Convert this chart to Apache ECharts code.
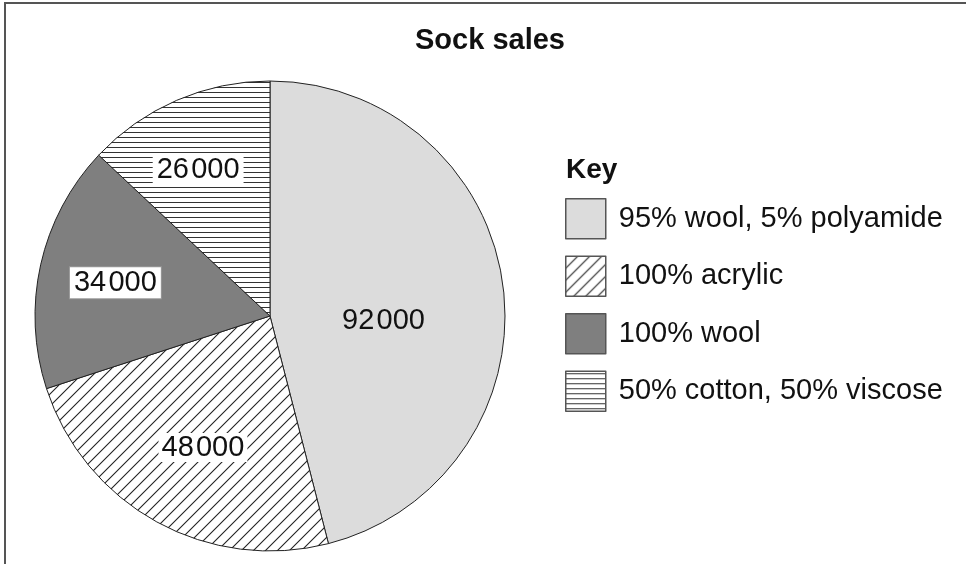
<!DOCTYPE html>
<html>
<head>
<meta charset="utf-8">
<script src="https://cdn.jsdelivr.net/npm/echarts@6/dist/echarts.min.js"></script>
<style>
html,body{margin:0;padding:0;background:#fff;}
#chart{width:966px;height:564px;}
</style>
</head>
<body>
<div id="chart"></div>
<script>
// ---- data ----
var titleText = 'Sock sales';
var keyText = 'Key';
var categories = ['95% wool, 5% polyamide', '100% acrylic', '100% wool', '50% cotton, 50% viscose'];
var values = [92000, 48000, 34000, 26000];

// ---- styles ----
function makeDiag() {
  var c = document.createElement('canvas');
  var s = 12;
  c.width = s; c.height = s;
  var g = c.getContext('2d');
  g.fillStyle = '#fff'; g.fillRect(0, 0, s, s);
  g.strokeStyle = '#222'; g.lineWidth = 1.1;
  g.beginPath();
  g.moveTo(-2, s + 2); g.lineTo(s + 2, -2);
  g.moveTo(-2, 2); g.lineTo(2, -2);
  g.moveTo(s - 2, s + 2); g.lineTo(s + 2, s - 2);
  g.stroke();
  return c;
}
function makeHoriz() {
  var c = document.createElement('canvas');
  c.width = 8; c.height = 5;
  var g = c.getContext('2d');
  g.fillStyle = '#fff'; g.fillRect(0, 0, 8, 5);
  g.strokeStyle = '#333'; g.lineWidth = 1;
  g.beginPath(); g.moveTo(0, 2.5); g.lineTo(8, 2.5); g.stroke();
  return c;
}
var fills = [
  '#dcdcdc',
  { image: makeDiag(), repeat: 'repeat' },
  '#7f7f7f',
  { image: makeHoriz(), repeat: 'repeat' }
];
var labelBoxes = [
  {},
  { backgroundColor: '#fff', padding: [0, 3] },
  { backgroundColor: '#fff', borderColor: '#999', borderWidth: 1, padding: [1, 4] },
  { backgroundColor: '#fff', padding: [0, 4] }
];
var labelShift = [[-6, 20], [-9, 26], [-37, -7], [-24, -35]];

function fmt(v) {
  var s = String(v);
  return s.slice(0, s.length - 3) + '{s| }' + s.slice(s.length - 3);
}

var data = categories.map(function (name, i) {
  var lbl = Object.assign({}, labelBoxes[i]);
  return { name: name, value: values[i], itemStyle: { color: fills[i] }, label: lbl };
});

var FONT = 'Liberation Sans, Arial, sans-serif';
var chart = echarts.init(document.getElementById('chart'), null, { renderer: 'canvas' });
chart.setOption({
  backgroundColor: '#fff',
  animation: false,
  graphic: [{
    type: 'rect', shape: { x: 5, y: 3, width: 1000, height: 620 },
    style: { fill: 'none', stroke: '#555', lineWidth: 2 }, silent: true, z: 100
  }],
  title: [
    { text: titleText, left: 485, top: 21, textAlign: 'center',
      textStyle: { fontFamily: FONT, fontWeight: 'bold', fontSize: 29, color: '#111' } },
    { text: keyText, left: 561, top: 151,
      textStyle: { fontFamily: FONT, fontWeight: 'bold', fontSize: 28, color: '#111' } }
  ],
  legend: {
    orient: 'vertical', left: 560, top: 193,
    itemWidth: 40, itemHeight: 40, itemGap: 16, icon: 'rect',
    itemStyle: { borderColor: '#555', borderWidth: 1.5 },
    textStyle: { fontFamily: FONT, fontSize: 29, color: '#111', padding: [0, 0, 0, 8] },
    data: categories
  },
  series: [{
    type: 'pie',
    center: [270, 316],
    radius: [0, 235],
    startAngle: 90,
    clockwise: true,
    silent: true,
    itemStyle: { borderColor: '#222', borderWidth: 1 },
    label: {
      show: true, position: 'inside',
      fontFamily: FONT, fontSize: 29, color: '#111',
      formatter: function (p) { return fmt(p.value); },
      rich: { s: { fontSize: 8 } }
    },
    labelLine: { show: false },
    labelLayout: function (p) {
      var d = labelShift[p.dataIndex];
      return { dx: d[0], dy: d[1] };
    },
    data: data
  }]
});
</script>
</body>
</html>
